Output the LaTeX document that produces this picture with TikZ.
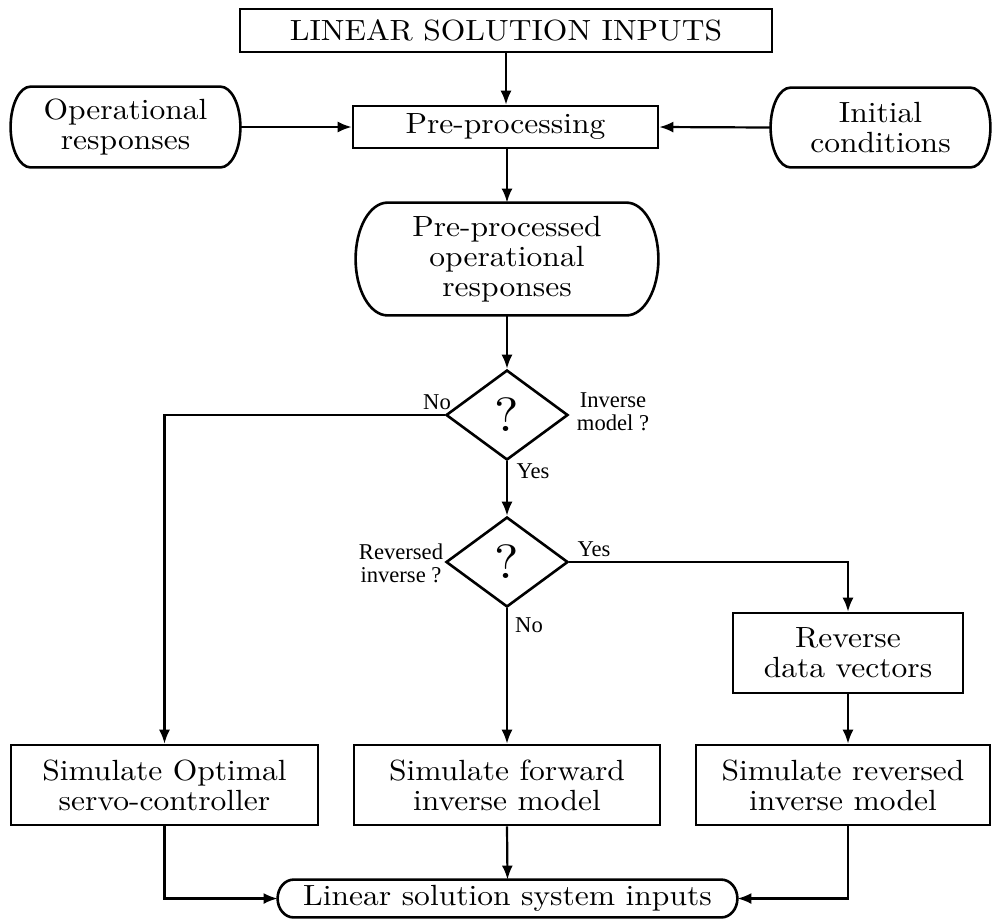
\documentclass[tikz,border=0pt]{standalone}
\usepackage{fontspec}
\usetikzlibrary{shapes.geometric,arrows.meta}
\setmainfont{lmroman10-regular}[Extension=.otf, FakeStretch=1.08]
\newfontfamily\labelfont{Liberation Serif}
% outline of a terminal: flat top and bottom, elliptic ends of horizontal radius #2
\newcommand{\capsule}[2]{%
  \path let \p1 = (#1.north), \p2 = (#1.south), \n1 = {(\y1-\y2)/2} in
    [draw, line width=1.3pt]
    ([xshift=#2]#1.north west) -- ([xshift=-#2]#1.north east)
    arc[start angle=90, end angle=-90, x radius=#2, y radius=\n1]
    -- ([xshift=#2]#1.south west)
    arc[start angle=270, end angle=90, x radius=#2, y radius=\n1] -- cycle;}
\usetikzlibrary{calc}
\begin{document}
\begin{tikzpicture}[x=0.5pt,y=-0.5pt,
  every node/.style={font=\fontsize{14.6}{15}\selectfont, align=center, inner sep=0pt},
  box/.style={draw, line width=1.3pt, rectangle},
  term/.style={rectangle},
  decision/.style={draw, line width=1.3pt, diamond, minimum width=61pt, minimum height=45pt,
                   font=\fontsize{24}{24}\selectfont},
  tag/.style={font=\labelfont\fontsize{11.3}{11.5}\selectfont, align=center},
  flow/.style={line width=1.1pt, -{Latex[length=7pt,width=5.5pt]}}]
\useasboundingbox (0,0) rectangle (992,918);

% process boxes and terminals
\node[box, minimum width=266pt, minimum height=21.5pt] (top) at (506,30.5) {LINEAR SOLUTION INPUTS};
\node[box, minimum width=152.5pt, minimum height=21pt] (pre) at (505.5,127) {Pre-processing};
\node[term, minimum width=114.5pt, minimum height=40pt] (opr) at (125.5,127) {Operational\\responses};
\node[term, minimum width=109.5pt, minimum height=39.5pt] (init) at (880.5,127.5) {Initial\\conditions};
\node[term, minimum width=151pt, minimum height=56pt] (ppr) at (507,259) {Pre-processed\\operational\\responses};
\node[decision] (d1) at (507,415) {?};
\node[decision] (d2) at (507,562) {?};
\node[box, minimum width=115pt, minimum height=40pt] (rev) at (848,653) {Reverse\\data vectors};
\node[box, minimum width=153.5pt, minimum height=40pt] (s1) at (164.5,785) {Simulate Optimal\\servo-controller};
\node[box, minimum width=153pt, minimum height=40pt] (s2) at (507,785) {Simulate forward\\inverse model};
\node[box, minimum width=147pt, minimum height=40pt] (s3) at (843,785) {Simulate reversed\\inverse model};
\node[term, minimum width=229.5pt, minimum height=18.5pt] (lin) at (507.5,898.5) {Linear solution system inputs};

\capsule{opr}{10pt}
\capsule{init}{10pt}
\capsule{ppr}{16pt}
\capsule{lin}{8pt}

% decision labels
\node[tag] (noA) at (437,402) {No};
\node[tag] (invq) at (613,412) {Inverse\\model ?};
\node[tag] (yesA) at (533,471) {Yes};
\node[tag] (revq) at (401,563) {Reversed\\inverse ?};
\node[tag] (yesB) at (594,549) {Yes};
\node[tag] (noB) at (529,625) {No};

% connectors
\draw[flow] (top.south) -- (top.south |- pre.north);
\draw[flow] (opr.east) -- (pre.west);
\draw[flow] (init.west) -- (pre.east);
\draw[flow] (pre.south -| ppr.north) -- (ppr.north);
\draw[flow] (ppr.south) -- (d1.north);
\draw[flow] (d1.west) -| (s1.north);
\draw[flow] (d1.south) -- (d2.north);
\draw[flow] (d2.east) -| (rev.north);
\draw[flow] (d2.south) -- (s2.north);
\draw[flow] (rev.south) -- (rev.south |- s3.north);
\draw[flow] (s1.south) |- (lin.west);
\draw[flow] (s2.south) -- (lin.north);
\draw[flow] (rev.south |- s3.south) |- (lin.east);
\end{tikzpicture}
\end{document}
